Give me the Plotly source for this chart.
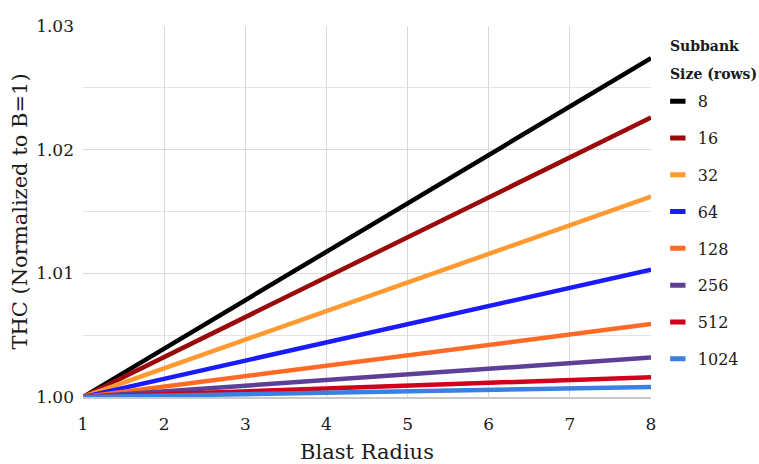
import plotly.graph_objects as go

blast_radius = [1, 8]
subbank_sizes = ["8", "16", "32", "64", "128", "256", "512", "1024"]
thc_values = {
    "8": [1.0, 1.0274],
    "16": [1.0, 1.0226],
    "32": [1.0, 1.0162],
    "64": [1.0, 1.0103],
    "128": [1.0, 1.0059],
    "256": [1.0, 1.0032],
    "512": [1.0, 1.0016],
    "1024": [1.0, 1.0008],
}
colors = ["#000000", "#9b0a0a", "#ff9a30", "#1a1aff", "#ff6a26", "#5e3f97", "#d0001c", "#3a80e0"]
legend_title_lines = ["Subbank", "Size (rows)"]

FONT = "DejaVu Serif"
fig = go.Figure()
for name, col in zip(subbank_sizes, colors):
    fig.add_trace(go.Scatter(
        x=blast_radius, y=thc_values[name], mode="lines", name=name,
        line=dict(color=col, width=4.5), showlegend=False, legendgroup=name,
    ))
    fig.add_trace(go.Scatter(
        x=[None], y=[None], mode="markers", name=name, legendgroup=name,
        marker=dict(symbol="line-ew-open", size=11, color=col, line=dict(color=col, width=5)),
        showlegend=True,
    ))

for txt, yy in zip(legend_title_lines, [0.947, 0.871]):
    fig.add_annotation(
        text=f"<b>{txt}</b>", xref="paper", yref="paper", x=1.03, y=yy,
        xanchor="left", yanchor="middle", showarrow=False,
        font=dict(family=FONT, size=14, color="#1a1a1a"),
    )

fig.update_layout(
    width=759, height=464,
    margin=dict(l=83, r=108, t=26, b=67),
    paper_bgcolor="white", plot_bgcolor="white",
    font=dict(family=FONT, size=17, color="#1a1a1a"),
    legend=dict(
        x=1.012, y=0.843, xanchor="left", yanchor="top",
        font=dict(family=FONT, size=16), tracegroupgap=13,
        itemsizing="trace",
    ),
    xaxis=dict(
        title=dict(text="Blast Radius", font=dict(size=21), standoff=14),
        range=[1, 8], tickvals=[1, 2, 3, 4, 5, 6, 7, 8], showgrid=True,
        gridcolor="#d9d9d9", gridwidth=1, zeroline=False, automargin=False,
        showline=True, linecolor="#c8c8c8", linewidth=1.5, ticks="",
        tickfont=dict(size=17), ticklabelstandoff=11,
    ),
    yaxis=dict(
        title=dict(text="THC (Normalized to B=1)", font=dict(size=21), standoff=2),
        range=[1.0, 1.03], dtick=0.01, tick0=1.0, tickformat=".2f",
        showgrid=True, gridcolor="#d9d9d9", gridwidth=1, zeroline=False,
        minor=dict(dtick=0.005, showgrid=True, gridcolor="#e3e3e3", gridwidth=1),
        tickfont=dict(size=17), ticks="", ticklabelstandoff=8, automargin=False,
    ),
)
fig.write_html(
    "out.html",
    config={"displayModeBar": False},
    post_script="document.body.style.margin='0';document.body.style.overflow='hidden';",
)
